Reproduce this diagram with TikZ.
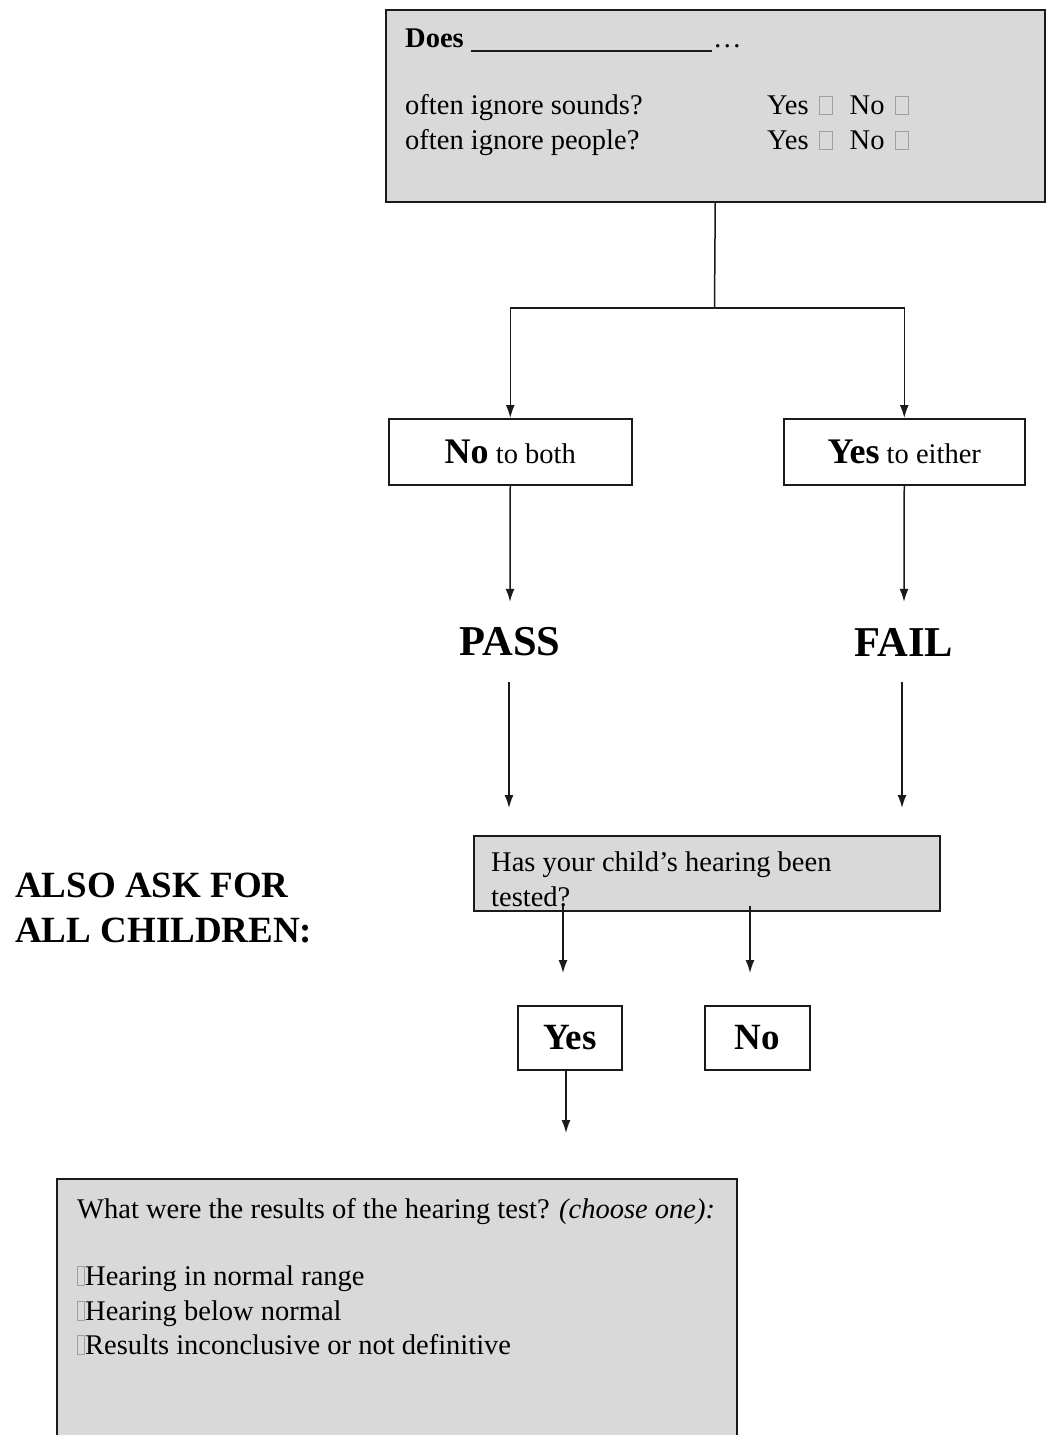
\documentclass[tikz,border=0pt]{standalone}
\usepackage{fontspec}
\setmainfont{Liberation Serif}
\usetikzlibrary{arrows.meta}

\definecolor{boxgray}{HTML}{D9D9D9}
\definecolor{linegray}{HTML}{1A1A1A}
\definecolor{tickgray}{HTML}{A0A0A0}

% small empty tick box used inside the questionnaire text
\newcommand{\tickbox}[2]{{\color{tickgray}\setlength{\fboxsep}{0pt}\setlength{\fboxrule}{1pt}\fbox{\rule{0pt}{#2}\hspace{#1}}}}
\newcommand{\yesno}{Yes\hspace{10pt}\tickbox{12pt}{17pt}\hspace{17pt}No\hspace{10pt}\tickbox{12pt}{17pt}}
\newcommand{\bodyfont}{\fontsize{28.5}{35}\selectfont}

\begin{document}
\begin{tikzpicture}[x=1pt,y=-1pt,
  graybox/.style={draw=linegray,line width=1.5pt,fill=boxgray,inner sep=0pt,anchor=north west},
  whitebox/.style={draw=linegray,line width=1.5pt,fill=white,inner sep=0pt,anchor=north west},
  txt/.style={inner sep=0pt,anchor=base west,font=\bodyfont},
  heading/.style={inner sep=0pt,anchor=base west,font=\fontsize{37}{45}\selectfont\bfseries},
  link/.style={draw=linegray,line width=1.5pt},
  arr/.style={link,-{Latex[length=13pt,width=9pt]}},
  big/.style={inner sep=0pt,font=\fontsize{42.5}{48}\selectfont\bfseries,minimum height=80pt}]
\clip (0,0) rectangle (1047,1435);
\fill[white] (0,0) rectangle (1047,1435);

% ---- screening question box
\node[graybox,minimum width=659pt,minimum height=192pt] (top) at (385,9) {};
\node[txt,font=\bodyfont\bfseries] (does) at (405,47) {Does};
\draw[linegray,line width=1.3pt] (471,51) -- (712,51);
\node[txt] (dots) at (713,47) {\ldots};
\node[txt] (q1) at (405,114) {often ignore sounds?};
\node[txt] (q2) at (405,149) {often ignore people?};
\node[txt] (a1) at (767,114) {\yesno};
\node[txt] (a2) at (767,149) {\yesno};

% ---- answer boxes
\node[whitebox,minimum width=243pt,minimum height=66pt] (nb) at (388,418)
  {\fontsize{36}{40}\selectfont\bfseries No\fontsize{28.5}{35}\selectfont\mdseries\ to both};
\node[whitebox,minimum width=241pt,minimum height=66pt] (ye) at (783,418)
  {\fontsize{36}{40}\selectfont\bfseries Yes\fontsize{28.5}{35}\selectfont\mdseries\ to either};

\coordinate (split) at (714.5,308);
\draw[link] (top.south) -- (split);
\draw[arr] (split) -| (nb.north);
\draw[arr] (split) -| (ye.north);

% ---- outcomes
\node[big] (pass) at (510,642) {PASS};
\node[big] (fail) at (904,642) {FAIL};
\draw[arr] (nb.south) -- (pass.north);
\draw[arr] (ye.south) -- (fail.north);

\coordinate (pend) at (509,808);
\coordinate (fend) at (902,808);
\draw[arr] (pend |- pass.south) -- (pend);
\draw[arr] (fend |- fail.south) -- (fend);

% ---- hearing test question
\node[heading] (also1) at (15,897) {ALSO ASK FOR};
\node[heading] (also2) at (15,942) {ALL CHILDREN:};

\node[graybox,minimum width=466pt,minimum height=75pt] (heard) at (473,835) {};
\node[txt] (h1) at (491,871) {Has your child’s hearing been};
\node[txt] (h2) at (491,906) {tested?};

\node[whitebox,minimum width=104pt,minimum height=64pt,font=\fontsize{37}{40}\selectfont\bfseries] (yes) at (517,1005) {Yes};
\node[whitebox,minimum width=105pt,minimum height=64pt,font=\fontsize{37}{40}\selectfont\bfseries] (no) at (704,1005) {No};

\coordinate (yend) at (563,973);
\coordinate (nend) at (750,973);
\draw[arr] (yend |- h2.base) -- (yend);
\draw[arr] (nend |- h2.base) -- (nend);

% ---- results box
\node[graybox,minimum width=680pt,minimum height=280pt] (res) at (56,1178) {};
\coordinate (rend) at (566,1133);
\draw[arr] (rend |- yes.south) -- (rend);

\node[txt] (r0) at (77,1218) {What were the results of the hearing test? \textit{(choose one):}};
\node[txt] (r1) at (77,1285) {\tickbox{6pt}{18pt}Hearing in normal range};
\node[txt] (r2) at (77,1320) {\tickbox{6pt}{18pt}Hearing below normal};
\node[txt] (r3) at (77,1354) {\tickbox{6pt}{18pt}Results inconclusive or not definitive};
\end{tikzpicture}
\end{document}
